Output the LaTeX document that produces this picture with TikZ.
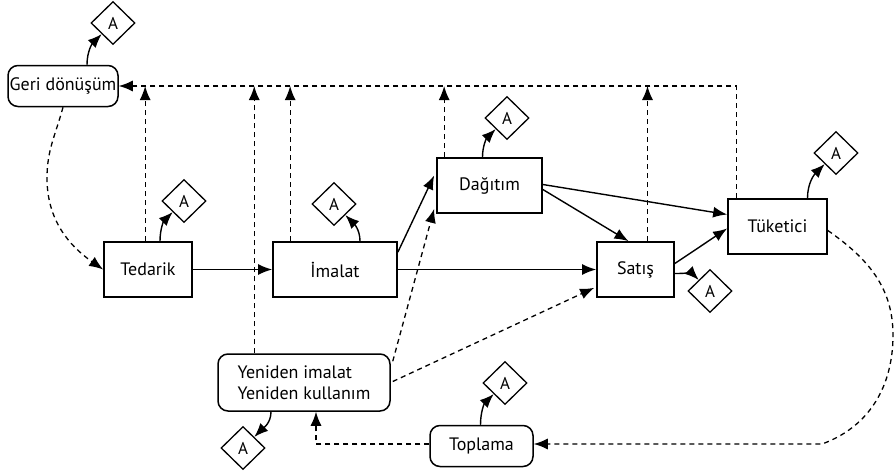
\documentclass[tikz,border=0pt]{standalone}
\usepackage{fontspec}
\setmainfont{PT Sans}
\usetikzlibrary{arrows.meta,shapes.geometric,calc}
\begin{document}
\begin{tikzpicture}[x=1pt,y=-1pt,
  every node/.style={font=\fontsize{18}{21}\selectfont},
  box/.style={draw,line width=1.7pt,minimum height=55pt,inner sep=0pt},
  rbox/.style={draw,line width=1.5pt,rounded corners=10pt,inner sep=0pt},
  dia/.style={draw,line width=1.3pt,diamond,minimum width=44pt,minimum height=43pt,inner sep=0pt,font=\fontsize{17}{19}\selectfont},
  arr/.style={line width=1.4pt,-{Latex[length=14pt,width=11pt]}},
  darr/.style={line width=1.3pt,dash pattern=on 5pt off 4pt,-{Latex[length=14pt,width=11pt]}},
  curv/.style={line width=1.4pt,-{Latex[length=14pt,width=11pt]}}
]
\useasboundingbox (0,0) rectangle (895,471);

% main nodes
\node[rbox,minimum width=110pt,minimum height=41pt] (geri) at (63,86) {Geri dönüşüm};
\node[box,minimum width=88pt] (ted) at (148,269.5) {Tedarik};
\node[box,minimum width=124pt] (ima) at (335,269.5) {İmalat};
\node[box,minimum width=105pt] (dag) at (489.5,185.5) {Dağıtım};
\node[box,minimum width=77pt] (sat) at (635.5,269.5) {Satış};
\node[box,minimum width=99pt] (tuk) at (777.5,226.5) {Tüketici};
\node[rbox,minimum width=172pt,minimum height=57pt,align=left] (yen) at (304,382.5) {Yeniden imalat\\Yeniden kullanım};
\node[rbox,minimum width=103pt,minimum height=41pt] (top) at (481.5,446) {Toplama};

% diamonds
\node[dia] (dgeri) at (113,23) {A};
\node[dia] (dted) at (184,201) {A};
\node[dia] (dima) at (334,204) {A};
\node[dia] (ddag) at (507,118) {A};
\node[dia] (dsat) at (710,291) {A};
\node[dia] (dtuk) at (836,153) {A};
\node[dia] (dyen) at (243,448) {A};
\node[dia] (dtop) at (505,383) {A};

% curved arrows to diamonds
\draw[curv] ($(geri.north)+(24,0)$) to[out=90,in=225] (dgeri.south west);
\draw[curv] ($(ted.north)+(12,0)$) to[out=90,in=225] (dted.south west);
\draw[curv] ($(ima.north)+(25,0)$) to[out=90,in=-45] (dima.south east);
\draw[curv] ($(dag.north)+(-7,0)$) to[out=90,in=225] (ddag.south west);
\draw[curv] ($(sat.east)+(0,4)$) to[out=0,in=135] (dsat.north west);
\draw[curv] ($(tuk.north)+(30,0)$) to[out=90,in=225] (dtuk.south west);
\draw[curv] ($(yen.south)+(-33,0)$) to[out=-90,in=45] (dyen.north east);
\draw[curv] ($(top.north)+(-1,0)$) to[out=90,in=225] (dtop.south west);

% top dashed return line
\coordinate (tl) at ($(tuk.north west)+(9,0)$);
\coordinate (vted) at ($(ted.north west)+(42,0)$);
\coordinate (vyen) at ($(yen.north west)+(37,0)$);
\coordinate (vima) at ($(ima.north west)+(18,0)$);
\coordinate (vdag) at ($(dag.north west)+(8,0)$);
\coordinate (vsat) at ($(sat.north)+(12,0)$);
\draw[darr] (tl) |- (geri.east);
\draw[darr] (vted) -- (vted |- geri.east);
\draw[darr] (vyen) -- (vyen |- geri.east);
\draw[darr] (vima) -- (vima |- geri.east);
\draw[darr] (vdag) -- (vdag |- geri.east);
\draw[darr] (vsat) -- (vsat |- geri.east);

% solid flow
\draw[arr] (ted.east) -- (ima.west);
\draw[arr] (ima.east) -- (sat.west);
\draw[arr] ($(ima.north east)+(0,11)$) -- ($(dag.west)+(-2,-10)$);
\draw[arr] ($(dag.east)+(0,4)$) -- ($(sat.north)+(-7,0)$);
\draw[arr] ($(dag.east)+(0,-1)$) -- ($(tuk.west)+(0,-12)$);
\draw[arr] ($(sat.east)+(0,-6)$) -- ($(tuk.west)+(0,2)$);

% dashed flows
\draw[darr] ($(yen.north east)+(2,8)$) -- ($(dag.south west)+(-2,-5)$);
\draw[darr] ($(yen.east)+(2,-1)$) -- ($(sat.south west)+(-2,-10)$);
\draw[darr] (geri.south) to[out=-105,in=90] (47,178) to[out=-90,in=145] (ted.west);
\draw[darr] ($(tuk.east)+(0,4)$) to[out=-35,in=90] (893,335) to[out=-90,in=20] (822,444) -- ($(top.east)+(0,-2)$);
\coordinate (yb) at ($(yen.south)+(12,0)$);
\draw[darr] ($(top.west)+(0,-2)$) -| (yb);
\end{tikzpicture}
\end{document}
